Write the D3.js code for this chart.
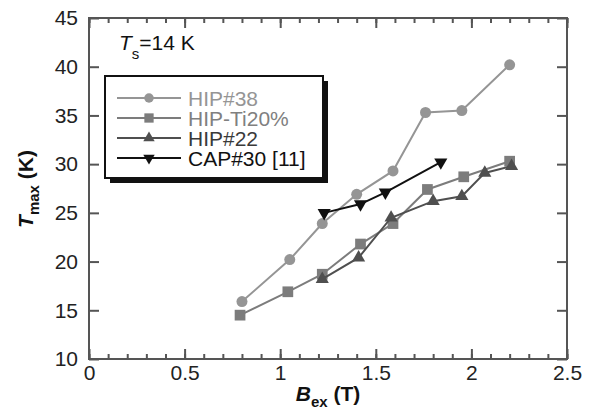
<!DOCTYPE html>
<html>
<head>
<meta charset="utf-8">
<script src="https://cdn.jsdelivr.net/npm/d3@7"></script>
<style>
  body { margin: 0; background: #fff; }
  svg { font-family: Arial, "Liberation Sans", sans-serif; }
</style>
</head>
<body>
<svg id="canvas"></svg>
<script>
// B_ex (T) and T_max (K)
const hip38B = [0.80, 1.05, 1.22, 1.40, 1.59, 1.76, 1.95, 2.20];
const hip38T = [15.9, 20.2, 23.9, 26.9, 29.3, 35.3, 35.5, 40.2];
const hipTiB = [0.79, 1.04, 1.22, 1.42, 1.59, 1.77, 1.96, 2.20];
const hipTiT = [14.5, 16.9, 18.7, 21.8, 23.9, 27.4, 28.7, 30.3];
const hip22B = [1.22, 1.41, 1.58, 1.80, 1.95, 2.07, 2.21];
const hip22T = [18.2, 20.4, 24.5, 26.2, 26.7, 29.1, 29.8];
const cap30B = [1.23, 1.42, 1.55, 1.84];
const cap30T = [25.0, 25.9, 27.1, 30.2];

const seriesNames = ["HIP#38", "HIP-Ti20%", "HIP#22", "CAP#30 [11]"];
const xTicks = [0, 0.5, 1, 1.5, 2, 2.5];
const yTicks = [10, 15, 20, 25, 30, 35, 40, 45];

const width = 594,
  height = 411,
  plotLeft = 89,
  plotRight = 567,
  plotTop = 18,
  plotBottom = 359;

const series = [
  { name: seriesNames[0], b: hip38B, t: hip38T, color: "#959595", text: "#959595", sym: d3.symbolCircle, size: 95, rot: 0 },
  { name: seriesNames[1], b: hipTiB, t: hipTiT, color: "#7c7c7c", text: "#808080", sym: d3.symbolSquare, size: 115, rot: 0 },
  { name: seriesNames[2], b: hip22B, t: hip22T, color: "#4f4f4f", text: "#3a3a3a", sym: d3.symbolTriangle, size: 75, rot: 0 },
  { name: seriesNames[3], b: cap30B, t: cap30T, color: "#111", text: "#111", sym: d3.symbolTriangle, size: 75, rot: 180 }
];

const canvas = d3.select("#canvas").attr("width", width).attr("height", height);
canvas.append("rect").attr("width", width).attr("height", height).attr("fill", "#fff");

const xScale = d3.scaleLinear().domain([0, 2.5]).range([plotLeft, plotRight]);
const yScale = d3.scaleLinear().domain([10, 45]).range([plotBottom, plotTop]);

const axisColor = "#555";
const styleAxis = (g) => {
  g.select(".domain").remove();
  g.selectAll(".tick line").attr("stroke", axisColor).attr("stroke-width", 2);
  g.selectAll(".tick text").attr("fill", "#222").attr("font-size", 21);
};

const minorX = d3.range(0, 2.501, 0.1);

// minor ticks bottom and top
canvas.append("g").attr("transform", `translate(0,${plotBottom})`)
  .call(d3.axisBottom(xScale).tickValues(minorX).tickSizeInner(-5).tickSizeOuter(0).tickFormat(""))
  .call(styleAxis);
canvas.append("g").attr("transform", `translate(0,${plotTop})`)
  .call(d3.axisTop(xScale).tickValues(minorX).tickSizeInner(-5).tickSizeOuter(0).tickFormat(""))
  .call(styleAxis);

// major ticks
canvas.append("g").attr("transform", `translate(0,${plotBottom})`)
  .call(d3.axisBottom(xScale).tickValues(xTicks).tickSizeInner(-10).tickSizeOuter(0).tickPadding(6).tickFormat(d3.format("~g")))
  .call(styleAxis);
canvas.append("g").attr("transform", `translate(0,${plotTop})`)
  .call(d3.axisTop(xScale).tickValues(xTicks).tickSizeInner(-10).tickSizeOuter(0).tickFormat(""))
  .call(styleAxis);
canvas.append("g").attr("transform", `translate(${plotLeft},0)`)
  .call(d3.axisLeft(yScale).tickValues(yTicks).tickSizeInner(-10).tickSizeOuter(0).tickPadding(11))
  .call(styleAxis);
canvas.append("g").attr("transform", `translate(${plotRight},0)`)
  .call(d3.axisRight(yScale).tickValues(yTicks).tickSizeInner(-10).tickSizeOuter(0).tickFormat(""))
  .call(styleAxis);

// frame
canvas.append("rect")
  .attr("x", plotLeft).attr("y", plotTop)
  .attr("width", plotRight - plotLeft).attr("height", plotBottom - plotTop)
  .attr("fill", "none").attr("stroke", axisColor).attr("stroke-width", 2);

// series
const line = d3.line().x((d) => xScale(d[0])).y((d) => yScale(d[1]));
series.forEach((s) => {
  const pts = s.b.map((b, i) => [b, s.t[i]]);
  canvas.append("path").attr("d", line(pts))
    .attr("fill", "none").attr("stroke", s.color).attr("stroke-width", 2);
  canvas.append("g").selectAll("path").data(pts).join("path")
    .attr("d", d3.symbol().type(s.sym).size(s.size))
    .attr("transform", (d) => `translate(${xScale(d[0])},${yScale(d[1])}) rotate(${s.rot})`)
    .attr("fill", s.color);
});

// legend
const lg = canvas.append("g");
lg.append("rect").attr("x", 110).attr("y", 81).attr("width", 218).attr("height", 102).attr("fill", "#111");
lg.append("rect").attr("x", 105).attr("y", 76).attr("width", 218).attr("height", 102)
  .attr("fill", "#fff").attr("stroke", "#111").attr("stroke-width", 2);
series.forEach((s, i) => {
  const cy = 98 + i * 20;
  lg.append("line").attr("x1", 117).attr("x2", 181).attr("y1", cy).attr("y2", cy)
    .attr("stroke", s.color).attr("stroke-width", 2);
  lg.append("path").attr("d", d3.symbol().type(s.sym).size(s.size * 0.75))
    .attr("transform", `translate(149,${cy}) rotate(${s.rot})`).attr("fill", s.color);
  lg.append("text").attr("x", 188).attr("y", cy + 7.5).attr("font-size", 21)
    .attr("fill", s.text).text(s.name);
});

// Ts label
const ts = canvas.append("text").attr("x", 119).attr("y", 50).attr("font-size", 21).attr("fill", "#111");
ts.append("tspan").attr("font-style", "italic").text("T");
ts.append("tspan").attr("font-size", 15).attr("dy", 9).text("s");
ts.append("tspan").attr("dy", -9).text("=14 K");

// axis titles
const xt = canvas.append("text").attr("x", 328).attr("y", 401).attr("text-anchor", "middle")
  .attr("font-size", 21).attr("font-weight", "bold").attr("fill", "#111");
xt.append("tspan").attr("font-style", "italic").text("B");
xt.append("tspan").attr("font-size", 15).attr("dy", 6).text("ex");
xt.append("tspan").attr("dy", -6).text(" (T)");

const yt = canvas.append("text").attr("transform", "translate(33,189) rotate(-90)")
  .attr("text-anchor", "middle").attr("font-size", 21).attr("font-weight", "bold").attr("fill", "#111");
yt.append("tspan").attr("font-style", "italic").text("T");
yt.append("tspan").attr("font-size", 15).attr("dy", 6).text("max");
yt.append("tspan").attr("dy", -6).text(" (K)");
</script>
</body>
</html>
